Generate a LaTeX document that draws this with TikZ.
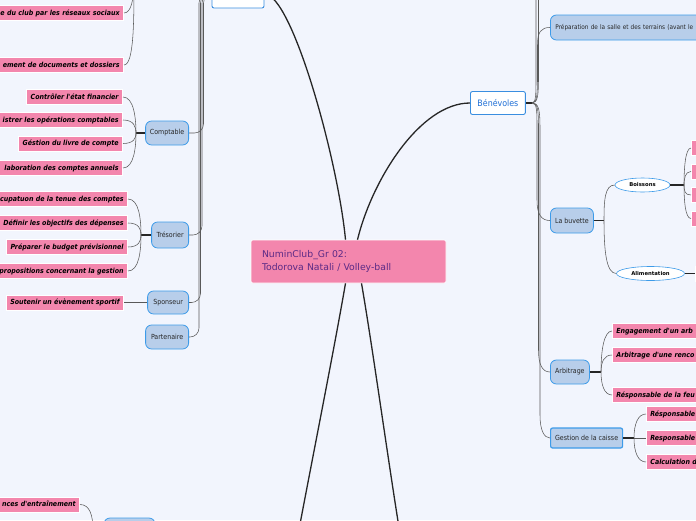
\documentclass[tikz,border=0pt]{standalone}
\usepackage{fontspec}
\setmainfont{DejaVu Sans}
\newfontfamily\condfont{DejaVu Sans Condensed}[BoldFont={DejaVu Sans Condensed Bold},ItalicFont={DejaVu Sans Condensed Oblique},BoldItalicFont={DejaVu Sans Condensed Bold Oblique}]
\usetikzlibrary{shapes.geometric, positioning, calc, shadows}

\definecolor{bgcol}{HTML}{F2F5FD}
\definecolor{leafpink}{HTML}{F386AD}
\definecolor{tabfill}{HTML}{B8CEEA}
\definecolor{tabline}{HTML}{3D9BE9}
\definecolor{boxline}{HTML}{3A8EE0}
\definecolor{boxtext}{HTML}{1F6FD6}
\definecolor{ctrtext}{HTML}{5B2A86}

\tikzset{
  leaf/.style={
    draw=white, line width=0.8pt, fill=leafpink,
    font=\condfont\bfseries\itshape\fontsize{7}{8}\selectfont,
    inner xsep=4pt, inner ysep=4pt,
    text height=5.5pt, text depth=1.5pt,
    drop shadow={shadow xshift=0.6pt, shadow yshift=-0.9pt, opacity=0.3}
  },
  cutleft/.style={text width=170pt, align=right},
  cutright/.style={text width=170pt, align=left},
  tab/.style={
    draw=tabline, fill=tabfill, line width=0.8pt, rounded corners=6pt,
    font=\condfont\fontsize{7}{8}\selectfont, text=black!85,
    inner xsep=4pt, minimum height=24pt
  },
  wbox/.style={
    draw=boxline, fill=white, line width=0.9pt, rounded corners=2pt,
    font=\condfont\fontsize{8.8}{10}\selectfont, text=boxtext,
    inner xsep=7pt, minimum height=23pt
  },
  ellbox/.style={
    ellipse, draw=tabline, fill=white, line width=0.6pt,
    font=\bfseries\fontsize{5.3}{6}\selectfont, inner sep=0pt,
    minimum height=14pt
  },
  centre/.style={
    draw=white, line width=0.6pt, fill=leafpink, rounded corners=2pt,
    font=\fontsize{9.3}{13}\selectfont, text=ctrtext, align=left,
    text width=173pt, inner xsep=11pt, minimum height=43pt
  },
  mainlink/.style={line width=1.3pt, black!85},
  sublink/.style={line width=0.55pt, black!65},
  stemlink/.style={line width=1.2pt, black!85},
}

\begin{document}
\begin{tikzpicture}[x=1pt, y=-1pt]
  \useasboundingbox (0,0) rectangle (696,520);
  \clip (0,0) rectangle (696,520);
  \fill[bgcol] (0,0) rectangle (696,520);

  % centre and main branches
  \node[centre] (ctr) at (348.5,261.5) {NuminClub\_Gr 02:\\Todorova Natali / Volley-ball};
  \node[wbox, minimum width=52pt, minimum height=28pt] (admin) at (238,-6) {};
  \node[wbox, anchor=west] (benev) at (470,103) {Bénévoles};
  \coordinate (downl) at (297,540);
  \coordinate (downr) at (401,540);

  \draw[mainlink] (admin.east) .. controls (292,-6) and (338,160) .. ($(ctr.north)+(-3,0)$);
  \draw[mainlink] (benev.west) .. controls (420,103) and (372,180) .. ($(ctr.north)+(9,0)$);
  \draw[mainlink] ($(ctr.south)+(-3,0)$) .. controls (334,350) and (312,460) .. (downl);
  \draw[mainlink] ($(ctr.south)+(13,0)$) .. controls (373,350) and (388,460) .. (downr);

  % left side
  \node[tab, anchor=east, minimum width=43pt] (compt) at (189,133) {Comptable};
  \node[tab, anchor=east, minimum width=37pt, minimum height=26pt] (treso) at (189,235) {Trésorier};
  \node[tab, anchor=east, minimum width=41pt, minimum height=23pt] (spons) at (189,302.5) {Sponseur};
  \node[tab, anchor=east, minimum width=43pt] (parten) at (189,337) {Partenaire};

  \draw[sublink, rounded corners=9pt] (admin.west) -| (203.5,60) |- (compt.east);
  \draw[sublink, rounded corners=9pt] (admin.west) -| (202,150) |- (treso.east);
  \draw[sublink, rounded corners=9pt] (admin.west) -| (200.5,250) |- (spons.east);
  \draw[sublink, rounded corners=9pt] (admin.west) -| (199,280) |- (parten.east);

  % leaves of a hidden branch above
  \node[leaf, cutleft, anchor=east] (reseaux) at (124,13) {e du club par les réseaux sociaux};
  \node[leaf, cutleft, anchor=east] (dossiers) at (124,65) {ement de documents et dossiers};
  \coordinate (hidtop) at (134,-20);
  \draw[sublink] (reseaux.east) .. controls +(7,0) and +(0,20) .. (hidtop);
  \draw[sublink] (dossiers.east) .. controls +(10,0) and +(0,40) .. (hidtop);

  % Comptable
  \node[leaf, anchor=east] (etat) at (123,97) {Contrôler l'état financier};
  \node[leaf, cutleft, anchor=east] (operat) at (123,120) {istrer les opérations comptables};
  \node[leaf, anchor=east] (livre) at (123,143.5) {Géstion du livre de compte};
  \node[leaf, cutleft, anchor=east] (annuels) at (123,168) {laboration des comptes annuels};
  \coordinate (comptb) at (136,133);
  \draw[stemlink] (comptb) -- (compt.west);
  \draw[sublink] (etat.east) .. controls +(11,0) and +(0,-14) .. (comptb);
  \draw[sublink] (operat.east) .. controls +(11,0) and +(0,-6) .. (comptb);
  \draw[sublink] (livre.east) .. controls +(11,0) and +(0,5) .. (comptb);
  \draw[sublink] (annuels.east) .. controls +(11,0) and +(0,14) .. (comptb);

  % Tresorier
  \node[leaf, cutleft, anchor=east] (tenue) at (128,199) {cupatuon de la tenue des comptes};
  \node[leaf, anchor=east] (depenses) at (128,223) {Définir les objectifs des dépenses};
  \node[leaf, anchor=east] (budget) at (128,247) {Préparer le budget prévisionnel};
  \node[leaf, cutleft, anchor=east] (gestion) at (128,271) {propositions concernant la gestion};
  \coordinate (tresob) at (141,235);
  \draw[stemlink] (tresob) -- (treso.west);
  \draw[sublink] (tenue.east) .. controls +(11,0) and +(0,-16) .. (tresob);
  \draw[sublink] (depenses.east) .. controls +(11,0) and +(0,-6) .. (tresob);
  \draw[sublink] (budget.east) .. controls +(11,0) and +(0,6) .. (tresob);
  \draw[sublink] (gestion.east) .. controls +(11,0) and +(0,16) .. (tresob);

  % Sponseur
  \node[leaf, anchor=east] (sportif) at (124,302.5) {Soutenir un évènement sportif};
  \draw[sublink] (sportif.east) -- (spons.west);

  % bottom left
  \node[leaf, cutleft, anchor=east] (entrain) at (80,504.5) {nces d'entraînement};
  \node[tab, minimum width=51pt, minimum height=26pt] (hidbot) at (129.5,531) {};
  \coordinate (entrb) at (93,530);
  \draw[sublink] (entrain.east) .. controls +(10,0) and +(0,-14) .. (entrb);

  % right side
  \node[tab, anchor=west, cutright, minimum height=25pt, inner xsep=5pt, font=\condfont\fontsize{6.4}{7}\selectfont] (prepa) at (550,27.5) {Préparation de la salle et des terrains (avant le};
  \node[tab, anchor=west, minimum width=43pt, minimum height=25pt] (buvette) at (550,220.5) {La buvette};
  \node[tab, anchor=west, minimum width=39pt] (arbit) at (550,372) {Arbitrage};
  \node[tab, anchor=west, rounded corners=2pt, line width=1.2pt, minimum width=72pt, minimum height=20pt] (caisse) at (550,438) {Gestion de la caisse};

  \coordinate (benevb) at (532,103);
  \draw[stemlink] (benev.east) -- (benevb);
  \coordinate (hidr1) at (536,-10);
  \coordinate (hidr2) at (538.5,-10);
  \draw[sublink] (benevb) .. controls (536,103) and (536,95) .. (536,75) -- (hidr1);
  \draw[sublink] (benevb) .. controls (538,103) and (538.5,95) .. (538.5,75) -- (hidr2);
  \draw[sublink] (benevb) .. controls (537,103) and (537.5,95) .. (537.5,75) -- (537.5,45) .. controls (537.5,32) and (541,27.5) .. (prepa.west);
  \draw[sublink] (benevb) .. controls (537,103) and (537,110) .. (537,130) -- (537,200) .. controls (537,214) and (541,220.5) .. (buvette.west);
  \draw[sublink] (benevb) .. controls (538,103) and (538.5,110) .. (538.5,130) -- (538.5,350) .. controls (538.5,364) and (542,372) .. (arbit.west);
  \draw[sublink] (benevb) .. controls (539,103) and (540,110) .. (540,130) -- (540,415) .. controls (540,430) and (544,438) .. (caisse.west);

  % La buvette
  \node[ellbox, minimum width=55pt] (boiss) at (642.5,185) {Boissons};
  \node[ellbox, minimum width=68pt] (alim) at (650.5,273.5) {Alimentation};
  \coordinate (buvb) at (604,220.5);
  \draw[stemlink] (buvette.east) -- (buvb);
  \draw[sublink] (buvb) .. controls +(0,-20) and +(-10,0) .. (boiss.west);
  \draw[sublink] (buvb) .. controls +(0,30) and +(-10,0) .. (alim.west);

  \node[leaf, minimum width=20pt, anchor=west] (boiss1) at (691,148) {};
  \node[leaf, minimum width=20pt, anchor=west] (boiss2) at (691,171.5) {};
  \node[leaf, minimum width=20pt, anchor=west] (boiss3) at (691,195) {};
  \node[leaf, minimum width=20pt, anchor=west] (boiss4) at (691,218.5) {};
  \coordinate (boissb) at (684,185);
  \draw[stemlink] (boiss.east) -- (boissb);
  \draw[sublink] (boissb) .. controls +(0,-14) and +(-6,0) .. (boiss1.west);
  \draw[sublink] (boissb) .. controls +(0,-6) and +(-6,0) .. (boiss2.west);
  \draw[sublink] (boissb) .. controls +(0,6) and +(-6,0) .. (boiss3.west);
  \draw[sublink] (boissb) .. controls +(0,14) and +(-6,0) .. (boiss4.west);

  \node[leaf, minimum width=20pt, anchor=west] (alim1) at (695,273.5) {};
  \draw[stemlink] (alim.east) -- (alim1.west);

  % Arbitrage
  \node[leaf, cutright, anchor=west] (arbitre) at (612,331) {Engagement d'un arb};
  \node[leaf, cutright, anchor=west] (rencontre) at (612,355) {Arbitrage d'une renco};
  \node[leaf, cutright, anchor=west] (feuille) at (612,395) {Résponsable de la feu};
  \coordinate (arbitb) at (601,372);
  \draw[stemlink] (arbit.east) -- (arbitb);
  \draw[sublink] (arbitb) .. controls +(0,-22) and +(-8,0) .. (arbitre.west);
  \draw[sublink] (arbitb) .. controls +(0,-10) and +(-8,0) .. (rencontre.west);
  \draw[sublink] (arbitb) .. controls +(0,12) and +(-8,0) .. (feuille.west);

  % Gestion de la caisse
  \node[leaf, cutright, anchor=west] (caisse1) at (646,414) {Résponsable};
  \node[leaf, cutright, anchor=west] (caisse2) at (646,438) {Responsable};
  \node[leaf, cutright, anchor=west] (caisse3) at (646,462) {Calculation d};
  \coordinate (caisseb) at (634,438);
  \draw[stemlink] (caisse.east) -- (caisseb);
  \draw[sublink] (caisseb) .. controls +(0,-14) and +(-8,0) .. (caisse1.west);
  \draw[sublink] (caisseb) -- (caisse2.west);
  \draw[sublink] (caisseb) .. controls +(0,14) and +(-8,0) .. (caisse3.west);
\end{tikzpicture}
\end{document}
